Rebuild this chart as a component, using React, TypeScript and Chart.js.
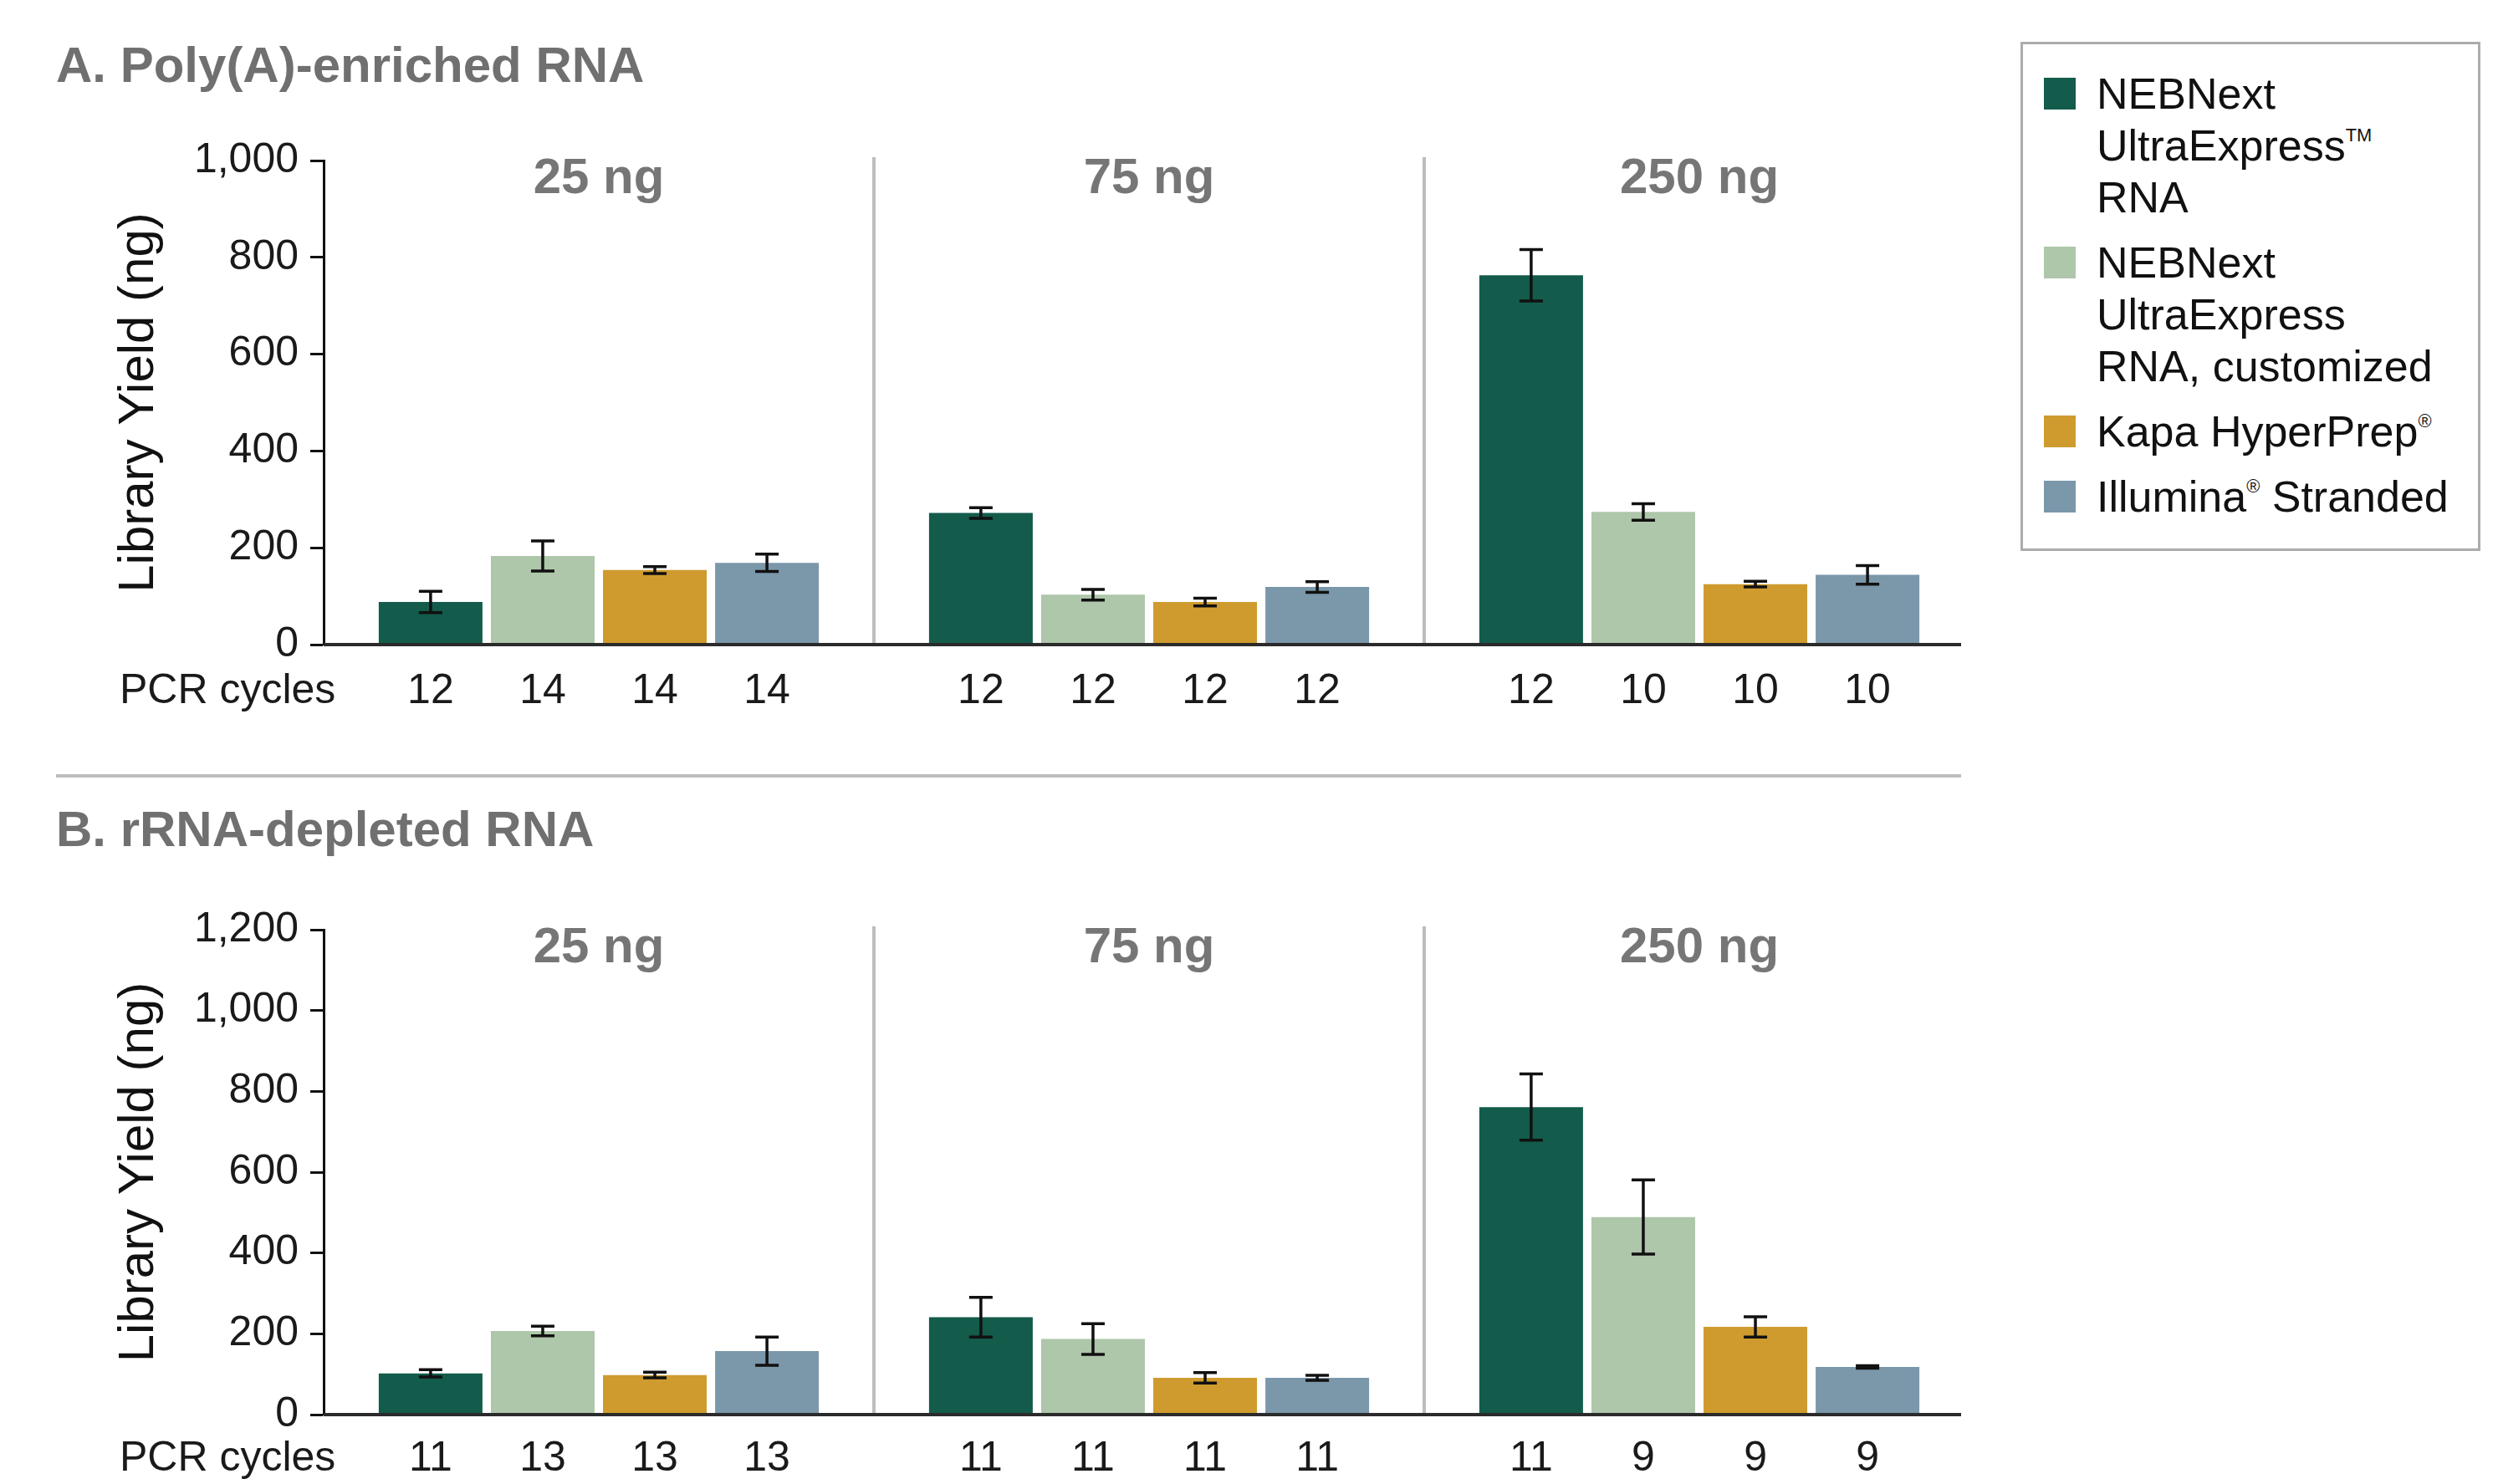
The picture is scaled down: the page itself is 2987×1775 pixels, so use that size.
import React, { useEffect, useRef } from 'react';
import { Chart, registerables } from 'chart.js';
Chart.register(...registerables);

const FONT = '"Liberation Sans", Arial, Helvetica, sans-serif';

// ---------- data ----------
const groups = ['25 ng', '75 ng', '250 ng'];
const seriesNames = [
  'NEBNext UltraExpress™ RNA',
  'NEBNext UltraExpress RNA, customized',
  'Kapa HyperPrep®',
  'Illumina® Stranded',
];
const legendLines = [
  ['NEBNext', 'UltraExpress™', 'RNA'],
  ['NEBNext', 'UltraExpress', 'RNA, customized'],
  ['Kapa HyperPrep®'],
  ['Illumina® Stranded'],
];
const seriesColors = ['#135b4b', '#aec6aa', '#cf9b2e', '#7b97aa'];

// Panel A: Poly(A)-enriched RNA
const polyA_ultra = [88, 272, 763];
const polyA_custom = [183, 103, 274];
const polyA_kapa = [154, 88, 125];
const polyA_illumina = [169, 119, 144];
const polyA_ultra_err = [22, 11, 53];
const polyA_custom_err = [31, 11, 17];
const polyA_kapa_err = [7, 8, 6];
const polyA_illumina_err = [18, 11, 19];
const polyA_cycles_ultra = [12, 12, 12];
const polyA_cycles_custom = [14, 12, 10];
const polyA_cycles_kapa = [14, 12, 10];
const polyA_cycles_illumina = [14, 12, 10];
const polyA_yTicks = [0, 200, 400, 600, 800, 1000];

// Panel B: rRNA-depleted RNA
const rrna_ultra = [102, 241, 761];
const rrna_custom = [207, 187, 489];
const rrna_kapa = [98, 91, 217];
const rrna_illumina = [157, 91, 118];
const rrna_ultra_err = [9, 49, 82];
const rrna_custom_err = [12, 38, 92];
const rrna_kapa_err = [7, 13, 25];
const rrna_illumina_err = [35, 6, 3];
const rrna_cycles_ultra = [11, 11, 11];
const rrna_cycles_custom = [13, 11, 9];
const rrna_cycles_kapa = [13, 11, 9];
const rrna_cycles_illumina = [13, 11, 9];
const rrna_yTicks = [0, 200, 400, 600, 800, 1000, 1200];

type PanelProps = {
  top: number;
  height: number;
  padTop: number;
  axisH: number;
  labelOffset: number;
  yTicks: number[];
  values: number[][];
  errors: number[][];
  cycles: number[][];
};

function Panel({ top, height, padTop, axisH, labelOffset, yTicks, values, errors, cycles }: PanelProps) {
  const ref = useRef<HTMLCanvasElement | null>(null);
  useEffect(() => {
    const canvas = ref.current;
    if (!canvas) return;
    const annot = {
      id: 'annot',
      afterDatasetsDraw(chart: any) {
        const ctx = chart.ctx;
        const area = chart.chartArea;
        const xs = chart.scales.x;
        const ys = chart.scales.y;
        ctx.save();
        // separators between groups
        ctx.strokeStyle = '#bdbdbd';
        ctx.lineWidth = 4;
        for (let i = 1; i < groups.length; i++) {
          const xb = (xs.getPixelForValue(i - 1) + xs.getPixelForValue(i)) / 2;
          ctx.beginPath();
          ctx.moveTo(xb, area.top - 4);
          ctx.lineTo(xb, area.bottom);
          ctx.stroke();
        }
        // x axis line
        ctx.strokeStyle = '#2b2b2b';
        ctx.lineWidth = 4;
        ctx.beginPath();
        ctx.moveTo(area.left, area.bottom);
        ctx.lineTo(area.right - 16, area.bottom);
        ctx.stroke();
        // group labels
        ctx.fillStyle = '#767676';
        ctx.font = `bold 60px ${FONT}`;
        ctx.textAlign = 'center';
        ctx.textBaseline = 'middle';
        groups.forEach((g, i) => ctx.fillText(g, xs.getPixelForValue(i), area.top + 22));
        // error bars
        ctx.strokeStyle = '#111';
        ctx.lineWidth = 3.5;
        values.forEach((vals, d) => {
          const meta = chart.getDatasetMeta(d);
          meta.data.forEach((el: any, i: number) => {
            const v = vals[i];
            const e = errors[d][i];
            const y1 = ys.getPixelForValue(v + e);
            const y2 = ys.getPixelForValue(v - e);
            const x = el.x;
            ctx.beginPath();
            ctx.moveTo(x, y1);
            ctx.lineTo(x, y2);
            ctx.moveTo(x - 14, y1);
            ctx.lineTo(x + 14, y1);
            ctx.moveTo(x - 14, y2);
            ctx.lineTo(x + 14, y2);
            ctx.stroke();
          });
        });
        // PCR cycle labels
        ctx.fillStyle = '#1a1a1a';
        ctx.font = `50px ${FONT}`;
        ctx.textAlign = 'center';
        values.forEach((_vals, d) => {
          const meta = chart.getDatasetMeta(d);
          meta.data.forEach((el: any, i: number) => {
            ctx.fillText(String(cycles[d][i]), el.x, area.bottom + labelOffset);
          });
        });
        ctx.textAlign = 'left';
        ctx.fillText('PCR cycles', 143, area.bottom + labelOffset);
        ctx.restore();
      },
    };
    const chart = new Chart(canvas, {
      type: 'bar',
      data: {
        labels: groups,
        datasets: values.map((vals, d) => ({
          label: seriesNames[d],
          data: vals,
          backgroundColor: seriesColors[d],
          borderWidth: 0,
          categoryPercentage: 0.815,
          barPercentage: 0.925,
        })),
      },
      options: {
        responsive: false,
        animation: false,
        devicePixelRatio: 1,
        layout: { padding: { top: padTop, left: 0, right: 19, bottom: 0 } },
        plugins: { legend: { display: false }, tooltip: { enabled: false }, title: { display: false } },
        scales: {
          x: {
            grid: { display: false, drawTicks: false },
            ticks: { display: false },
            border: { display: false },
            afterFit: (s: any) => { s.height = axisH; },
          },
          y: {
            z: 1,
            min: yTicks[0],
            max: yTicks[yTicks.length - 1],
            afterBuildTicks: (s: any) => { s.ticks = yTicks.map((v) => ({ value: v })); },
            ticks: {
              padding: 14,
              color: '#1a1a1a',
              font: { family: FONT, size: 50 },
              callback: (v: any) => Number(v).toLocaleString('en-US'),
            },
            grid: { display: true, drawOnChartArea: false, drawTicks: true, tickLength: 16, tickColor: '#111', tickWidth: 3 },
            border: { display: true, color: '#111', width: 3 },
            title: {
              display: true,
              text: 'Library Yield (ng)',
              color: '#111',
              font: { family: FONT, size: 60 },
              padding: { top: 130, bottom: 0 },
            },
            afterFit: (s: any) => { s.width = 387; },
          },
        },
      },
      plugins: [annot],
    });
    return () => chart.destroy();
  }, []);
  return (
    <canvas
      ref={ref}
      width={2380}
      height={height}
      style={{ position: 'absolute', left: 0, top, width: 2380, height }}
    />
  );
}

function renderLabel(text: string) {
  const parts = text.split(/([®™])/);
  return parts.map((p, i) =>
    p === '®' || p === '™' ? (
      <span key={i} style={{ fontSize: '0.42em', lineHeight: 0, position: 'relative', top: '-1.05em' }}>{p === '™' ? 'TM' : '®'}</span>
    ) : (
      <span key={i}>{p}</span>
    )
  );
}

export default function App() {
  return (
    <div style={{ position: 'absolute', left: 0, top: 0, width: 2987, height: 1775, overflow: 'hidden', background: '#fff', fontFamily: FONT }}>
      <div style={{ position: 'absolute', left: 67, top: 43, fontSize: 60, lineHeight: '70px', fontWeight: 'bold', color: '#707070', whiteSpace: 'nowrap' }}>
        A. Poly(A)-enriched RNA
      </div>
      <Panel
        top={0}
        height={880}
        padTop={192}
        axisH={109}
        labelOffset={56}
        yTicks={polyA_yTicks}
        values={[polyA_ultra, polyA_custom, polyA_kapa, polyA_illumina]}
        errors={[polyA_ultra_err, polyA_custom_err, polyA_kapa_err, polyA_illumina_err]}
        cycles={[polyA_cycles_ultra, polyA_cycles_custom, polyA_cycles_kapa, polyA_cycles_illumina]}
      />
      <div style={{ position: 'absolute', left: 67, top: 926, width: 2278, height: 4, background: '#bdbdbd' }} />
      <div style={{ position: 'absolute', left: 67, top: 957, fontSize: 60, lineHeight: '70px', fontWeight: 'bold', color: '#707070', whiteSpace: 'nowrap' }}>
        B. rRNA-depleted RNA
      </div>
      <Panel
        top={1060}
        height={715}
        padTop={52}
        axisH={83}
        labelOffset={53}
        yTicks={rrna_yTicks}
        values={[rrna_ultra, rrna_custom, rrna_kapa, rrna_illumina]}
        errors={[rrna_ultra_err, rrna_custom_err, rrna_kapa_err, rrna_illumina_err]}
        cycles={[rrna_cycles_ultra, rrna_cycles_custom, rrna_cycles_kapa, rrna_cycles_illumina]}
      />
      <div
        style={{
          position: 'absolute', left: 2416, top: 50, width: 550, height: 609, boxSizing: 'border-box',
          border: '3px solid #acacac', padding: '28px 0 0 25px', fontSize: 52, lineHeight: '62px', color: '#111',
        }}
      >
        {legendLines.map((lines, k) => (
          <div key={k} style={{ display: 'flex', marginBottom: 16 }}>
            <div style={{ width: 38, height: 38, background: seriesColors[k], marginTop: 12, marginRight: 25, flex: 'none' }} />
            <div style={{ whiteSpace: 'nowrap' }}>
              {lines.map((ln, j) => (
                <div key={j}>{renderLabel(ln)}</div>
              ))}
            </div>
          </div>
        ))}
      </div>
    </div>
  );
}
